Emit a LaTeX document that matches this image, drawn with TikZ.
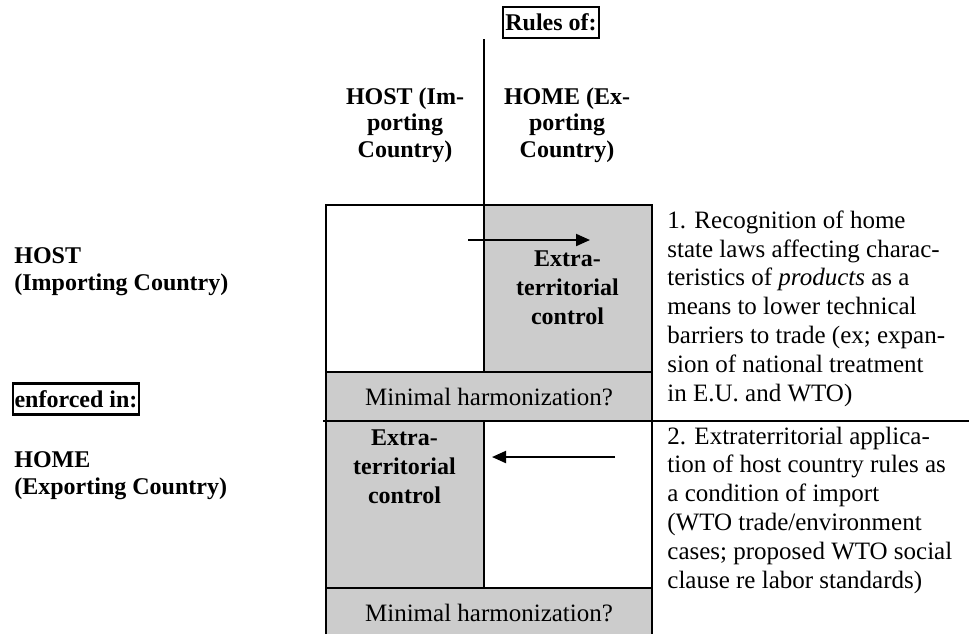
\documentclass[tikz,border=0pt]{standalone}
\usepackage{fontspec}
\setmainfont{Liberation Serif}
\usetikzlibrary{positioning}
\usetikzlibrary{arrows.meta}

\begin{document}
\begin{tikzpicture}[x=0.5pt, y=-0.5pt,
    head/.style={font=\bfseries\fontsize{12}{13.25}\selectfont, align=center, inner sep=0pt, anchor=base},
    side/.style={font=\bfseries\fontsize{12}{13.5}\selectfont, align=left, inner sep=0pt, anchor=base west},
    note/.style={font=\fontsize{12.5}{14.4}\selectfont, align=left, inner sep=0pt, anchor=base west},
    tag/.style={draw, line width=1.2pt, font=\bfseries\fontsize{12}{14}\selectfont, inner sep=0pt, minimum height=15.5pt},
    cell/.style={fill=black!20},
    rule/.style={line width=1.2pt},
    flow/.style={line width=1pt, -{Triangle[length=7pt, width=6pt]}}]
    \useasboundingbox (0,0) rectangle (969,634);
    % cells %
    \fill[cell] (484,205) rectangle (652,372);
    \fill[cell] (326,372) rectangle (652,421);
    \fill[cell] (326,421) rectangle (484,588);
    \fill[cell] (326,588) rectangle (652,634);
    % grid %
    \draw[rule] (326,634) -- (326,205) -- (652,205) -- (652,634);
    \draw[rule] (484,39) -- (484,372);
    \draw[rule] (326,372) -- (652,372);
    \draw[rule] (323,421) -- (969,421);
    \draw[rule] (484,421) -- (484,588);
    \draw[rule] (326,588) -- (652,588);
    % nodes %
    \node[tag, minimum width=48pt] (rules) at (551,22.5) {Rules of:};
    \node[tag, minimum width=63pt] (enforced) at (76,399) {enforced in:};
    \node[head] (hostcol) at (405,157) {HOST (Im-\\porting\\Country)};
    \node[head] (homecol) at (567,157) {HOME (Ex-\\porting\\Country)};
    \node[side] (hostrow) at (14,290) {HOST\\(Importing Country)};
    \node[side] (homerow) at (14,494) {HOME\\(Exporting Country)};
    \node[head, font=\bfseries\fontsize{12}{14.5}\selectfont] (ctrlup) at (567.5,324) {Extra-\\territorial\\control};
    \node[head, font=\bfseries\fontsize{12}{14.5}\selectfont] (ctrldown) at (404.5,503) {Extra-\\territorial\\control};
    \node[font=\fontsize{12.5}{14}\selectfont] (harmup) at (489,396.5) {Minimal harmonization?};
    \node[font=\fontsize{12.5}{14}\selectfont] (harmdown) at (489,612.5) {Minimal harmonization?};
    \node[note] (case1) at (667,401) {1. Recognition of home\\state laws affecting charac-\\teristics of \textit{products} as a\\means to lower technical\\barriers to trade (ex; expan-\\sion of national treatment\\in E.U. and WTO)};
    \node[note] (case2) at (667,588) {2. Extraterritorial applica-\\tion of host country rules as\\a condition of import\\(WTO trade/environment\\cases; proposed WTO social\\clause re labor standards)};
    % edges %
    \coordinate (upfrom) at (468,240);
    \coordinate (upto) at (590,240);
    \coordinate (downfrom) at (615,457);
    \coordinate (downto) at (492,457);
    \draw[flow] (upfrom) -- (upto);
    \draw[flow] (downfrom) -- (downto);
\end{tikzpicture}
\end{document}
